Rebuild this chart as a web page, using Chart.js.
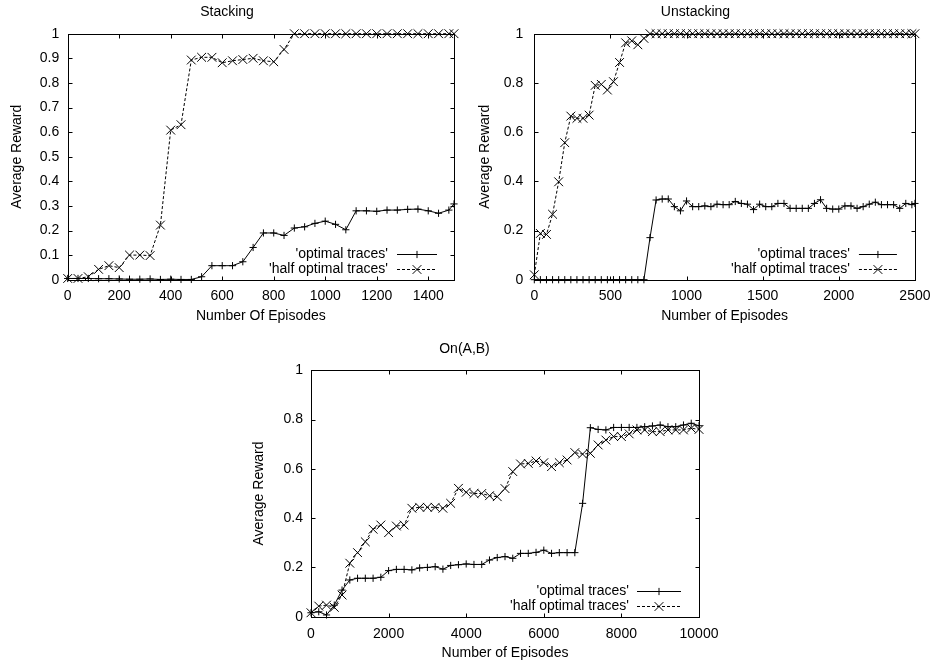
<!DOCTYPE html>
<html>
<head>
<meta charset="utf-8">
<script src="https://cdn.jsdelivr.net/npm/chart.js@4/dist/chart.umd.min.js"></script>
<style>
  html, body { margin: 0; padding: 0; background: #fff; }
  body { width: 939px; height: 663px; position: relative; overflow: hidden; }
  canvas { position: absolute; }
</style>
</head>
<body>
<canvas id="c1" width="470" height="330" style="left:0px;top:0px"></canvas>
<canvas id="c2" width="469" height="330" style="left:470px;top:0px"></canvas>
<canvas id="c3" width="500" height="333" style="left:230px;top:330px"></canvas>
<script>
// ---------------- DATA ----------------
const seriesLabels = ["'optimal traces'", "'half optimal traces'"];

const stackTitle = "Stacking";
const stackXLabel = "Number Of Episodes";
const stackEpisodes = [0,40,80,120,160,200,240,280,320,360,400,440,480,520,560,600,640,680,720,760,800,840,880,920,960,1000,1040,1080,1120,1160,1200,1240,1280,1320,1360,1400,1440,1480,1500];
const stackOptimal = [0.005,0.005,0.005,0.004,0.004,0.003,0.002,0.002,0.003,0.001,0.002,0.001,0.001,0.012,0.057,0.057,0.057,0.073,0.131,0.19,0.19,0.18,0.21,0.215,0.229,0.238,0.225,0.203,0.28,0.28,0.278,0.283,0.283,0.286,0.287,0.28,0.27,0.283,0.308];
const stackHalf = [0.005,0.005,0.012,0.042,0.057,0.049,0.10,0.10,0.098,0.222,0.608,0.63,0.893,0.904,0.904,0.882,0.89,0.895,0.90,0.89,0.886,0.936,1,1,1,1,1,1,1,1,1,1,1,1,1,1,1,1,1];

const unstackTitle = "Unstacking";
const unstackXLabel = "Number of Episodes";
const unstackEpisodes = [0,40,80,120,160,200,240,280,320,360,400,440,480,520,560,600,640,680,720,760,800,840,880,920,960,1000,1040,1080,1120,1160,1200,1240,1280,1320,1360,1400,1440,1480,1520,1560,1600,1640,1680,1720,1760,1800,1840,1880,1920,1960,2000,2040,2080,2120,2160,2200,2240,2280,2320,2360,2400,2440,2480,2500];
const unstackOptimal = [0,0,0,0,0,0,0,0,0,0,0,0,0,0,0,0,0,0,0,0.171,0.324,0.328,0.328,0.297,0.28,0.32,0.297,0.297,0.30,0.297,0.307,0.305,0.305,0.318,0.31,0.307,0.285,0.307,0.297,0.297,0.31,0.31,0.29,0.29,0.29,0.29,0.31,0.325,0.29,0.287,0.287,0.30,0.30,0.29,0.297,0.307,0.315,0.305,0.305,0.305,0.29,0.31,0.305,0.31];
const unstackHalf = [0.02,0.188,0.184,0.266,0.398,0.557,0.665,0.656,0.656,0.669,0.79,0.794,0.771,0.805,0.883,0.963,0.971,0.955,0.981,1,1,1,1,1,1,1,1,1,1,1,1,1,1,1,1,1,1,1,1,1,1,1,1,1,1,1,1,1,1,1,1,1,1,1,1,1,1,1,1,1,1,1,1,1];

const onTitle = "On(A,B)";
const onXLabel = "Number of Episodes";
const onEpisodes = [0,200,400,600,800,1000,1200,1400,1600,1800,2000,2200,2400,2600,2800,3000,3200,3400,3600,3800,4000,4200,4400,4600,4800,5000,5200,5400,5600,5800,6000,6200,6400,6600,6800,7000,7200,7400,7600,7800,8000,8200,8400,8600,8800,9000,9200,9400,9600,9800,10000];
const onOptimal = [0.016,0.02,0.007,0.047,0.108,0.149,0.156,0.156,0.156,0.16,0.187,0.192,0.192,0.19,0.198,0.2,0.203,0.193,0.208,0.211,0.214,0.212,0.212,0.23,0.24,0.244,0.237,0.257,0.257,0.261,0.27,0.257,0.26,0.26,0.26,0.46,0.767,0.76,0.758,0.768,0.768,0.768,0.768,0.771,0.774,0.778,0.771,0.771,0.778,0.785,0.775];
const onHalf = [0.016,0.043,0.047,0.038,0.088,0.217,0.26,0.304,0.355,0.372,0.341,0.368,0.372,0.44,0.444,0.444,0.444,0.44,0.46,0.521,0.505,0.50,0.50,0.491,0.487,0.52,0.589,0.62,0.622,0.632,0.625,0.609,0.625,0.636,0.666,0.66,0.663,0.697,0.717,0.731,0.731,0.742,0.758,0.758,0.751,0.751,0.758,0.758,0.758,0.765,0.76];

const yLabel = "Average Reward";

// ---------------- RENDERING ----------------
const FONT = '"Liberation Sans", Arial, Helvetica, sans-serif';
Chart.defaults.font.family = FONT;
Chart.defaults.font.size = 14;
Chart.defaults.color = '#000';

const framePlugin = {
  id: 'gnuframe',
  afterDatasetsDraw(chart) {
    const {ctx, chartArea: a, scales: {x, y}} = chart;
    ctx.save();
    ctx.strokeStyle = '#000';
    ctx.lineWidth = 1;
    ctx.setLineDash([]);
    const L = Math.round(a.left) + 0.5, R = Math.round(a.right) + 0.5;
    const T = Math.round(a.top) + 0.5, B = Math.round(a.bottom) + 0.5;
    ctx.strokeRect(L, T, R - L, B - T);
    const len = 4;
    ctx.beginPath();
    x.ticks.forEach(t => {
      const p = Math.round(x.getPixelForValue(t.value)) + 0.5;
      ctx.moveTo(p, B); ctx.lineTo(p, B - len);
      ctx.moveTo(p, T); ctx.lineTo(p, T + len);
    });
    y.ticks.forEach(t => {
      const p = Math.round(y.getPixelForValue(t.value)) + 0.5;
      ctx.moveTo(L, p); ctx.lineTo(L + len, p);
      ctx.moveTo(R, p); ctx.lineTo(R - len, p);
    });
    ctx.stroke();

    // legend (gnuplot-style, inside bottom right)
    const lg = chart.options.plugins.gnuframe || {};
    const textEnd = a.right - (lg.textGap || 66);
    const s0 = a.right - (lg.sampleStart || 57), s1 = a.right - (lg.sampleEnd || 17);
    const rows = [a.bottom - 25.5, a.bottom - 11];
    ctx.font = '14px ' + FONT;
    ctx.fillStyle = '#000';
    ctx.textAlign = 'right';
    ctx.textBaseline = 'middle';
    chart.data.datasets.forEach((ds, i) => {
      const yy = Math.round(rows[i]) + 0.5;
      ctx.fillText(ds.label, textEnd, yy);
      ctx.setLineDash(ds.borderDash || []);
      ctx.beginPath(); ctx.moveTo(s0, yy); ctx.lineTo(s1, yy); ctx.stroke();
      ctx.setLineDash([]);
      const cx = (s0 + s1) / 2;
      ctx.beginPath();
      if (ds.pointStyle === 'cross') {
        const r = ds.pointRadius;
        ctx.moveTo(cx - r, yy); ctx.lineTo(cx + r, yy);
        ctx.moveTo(cx, yy - r); ctx.lineTo(cx, yy + r);
      } else {
        const r = ds.pointRadius * Math.SQRT1_2;
        ctx.moveTo(cx - r, yy - r); ctx.lineTo(cx + r, yy + r);
        ctx.moveTo(cx - r, yy + r); ctx.lineTo(cx + r, yy - r);
      }
      ctx.stroke();
    });
    ctx.restore();
  }
};

function fmt(v) { return String(Math.round(v * 1000) / 1000); }

function makeChart(id, cfg) {
  const datasets = [
    {
      label: seriesLabels[0],
      data: cfg.xs.map((x, i) => ({x: x, y: cfg.opt[i]})),
      borderColor: '#000', backgroundColor: '#000', borderWidth: 1,
      pointStyle: 'cross', pointRadius: 3.6, pointBorderWidth: 1, pointBorderColor: '#000',
      pointHoverRadius: 3.6, tension: 0, fill: false, clip: false
    },
    {
      label: seriesLabels[1],
      data: cfg.xs.map((x, i) => ({x: x, y: cfg.half[i]})),
      borderColor: '#000', backgroundColor: '#000', borderWidth: 1, borderDash: [3, 2],
      pointStyle: 'crossRot', pointRadius: 6.2, pointBorderWidth: 1, pointBorderColor: '#000',
      pointHoverRadius: 6.2, tension: 0, fill: false, clip: false
    }
  ];
  return new Chart(document.getElementById(id), {
    type: 'line',
    data: { datasets },
    plugins: [framePlugin],
    options: {
      responsive: false, animation: false, devicePixelRatio: 1,
      events: [],
      layout: { padding: { left: 0, right: cfg.padRight, top: 0, bottom: 0 } },
      plugins: {
        legend: { display: false },
        tooltip: { enabled: false },
        title: {
          display: true, text: cfg.title, color: '#000',
          font: { size: 14, weight: 'normal' },
          padding: { top: cfg.titleTop, bottom: cfg.titleBottom }
        },
        gnuframe: cfg.legend || {}
      },
      scales: {
        x: {
          type: 'linear', min: cfg.xmin, max: cfg.xmax,
          grid: { display: false, drawTicks: false }, border: { display: false },
          ticks: { stepSize: cfg.xstep, includeBounds: false, callback: fmt, padding: cfg.xTickPad, maxRotation: 0, autoSkip: false, color: '#000' },
          title: { display: true, text: cfg.xlabel, color: '#000', font: { size: 14 }, padding: { top: 0, bottom: cfg.xTitleBottom } },
          afterFit(s) { s.height = cfg.xHeight; }
        },
        y: {
          type: 'linear', min: 0, max: 1,
          grid: { display: false, drawTicks: false }, border: { display: false },
          ticks: { stepSize: cfg.ystep, includeBounds: false, callback: fmt, padding: cfg.yTickPad, autoSkip: false, color: '#000' },
          title: { display: true, text: yLabel, color: '#000', font: { size: 14 }, padding: { top: cfg.yTitlePad, bottom: 0 } },
          afterFit(s) { s.width = cfg.yWidth; }
        }
      }
    }
  });
}

makeChart('c1', {
  xs: stackEpisodes, opt: stackOptimal, half: stackHalf,
  title: stackTitle, xlabel: stackXLabel,
  xmin: 0, xmax: 1500, xstep: 200, ystep: 0.1,
  padRight: 16, titleTop: 3.6, titleBottom: 13.3,
  xHeight: 50.3, xTickPad: 8.5, xTitleBottom: 5.3,
  yWidth: 67.7, yTickPad: 8.5, yTitlePad: 8.6,
  legend: { textGap: 66, sampleStart: 57, sampleEnd: 17 }
});

makeChart('c2', {
  xs: unstackEpisodes, opt: unstackOptimal, half: unstackHalf,
  title: unstackTitle, xlabel: unstackXLabel,
  xmin: 0, xmax: 2500, xstep: 500, ystep: 0.2,
  padRight: 18, titleTop: 3.6, titleBottom: 13.3,
  xHeight: 50.3, xTickPad: 8.5, xTitleBottom: 5.3,
  yWidth: 64.3, yTickPad: 11, yTitlePad: 6.3,
  legend: { textGap: 65, sampleStart: 56, sampleEnd: 18 }
});

makeChart('c3', {
  xs: onEpisodes, opt: onOptimal, half: onHalf,
  title: onTitle, xlabel: onXLabel,
  xmin: 0, xmax: 10000, xstep: 2000, ystep: 0.2,
  padRight: 31, titleTop: 10.6, titleBottom: 12.9,
  xHeight: 46.3, xTickPad: 9, xTitleBottom: 1.9,
  yWidth: 81, yTickPad: 8, yTitlePad: 20.9,
  legend: { textGap: 70, sampleStart: 62, sampleEnd: 18 }
});
</script>
</body>
</html>
